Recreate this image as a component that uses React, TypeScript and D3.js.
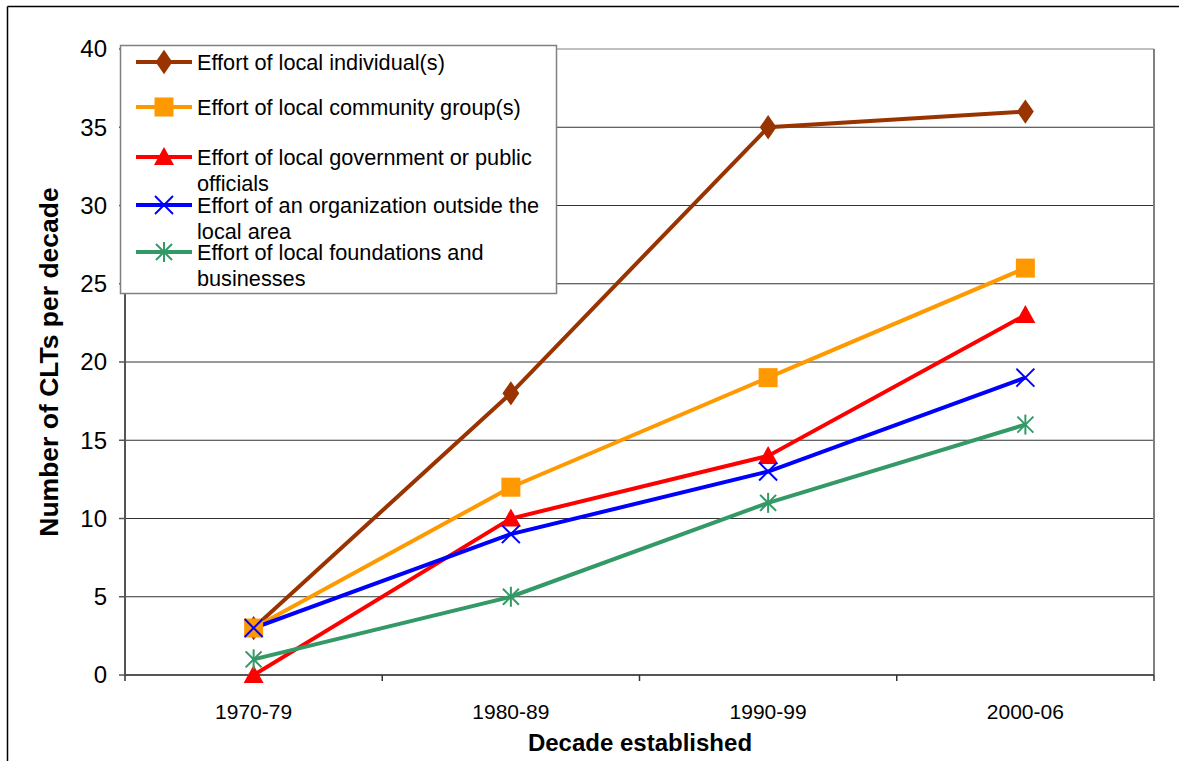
import React from "react";
import * as d3 from "d3";

const categories = ["1970-79", "1980-89", "1990-99", "2000-06"];
const individual = [3, 18, 35, 36];
const community = [3, 12, 19, 26];
const government = [0, 10, 14, 23];
const outsideOrg = [3, 9, 13, 19];
const foundations = [1, 5, 11, 16];
const yTicks = [0, 5, 10, 15, 20, 25, 30, 35, 40];

const seriesNames = [
  ["Effort of local individual(s)"],
  ["Effort of local community group(s)"],
  ["Effort of local government or public", "officials"],
  ["Effort of an organization outside the", "local area"],
  ["Effort of local foundations and", "businesses"],
];
const seriesValues = [individual, community, government, outsideOrg, foundations];
const colors = ["#993300", "#FF9900", "#FF0000", "#0000FF", "#339966"];
const markers = ["diamond", "square", "triangle", "x", "star"];

const W = 1179, H = 761;
const left = 125, right = 1154, top = 49, bottom = 675;
const FONT = "Liberation Sans, Arial, sans-serif";

function Marker({ type, x, y, color }: { type: string; x: number; y: number; color: string }) {
  if (type === "diamond") {
    const p = d3.symbol().type(d3.symbolDiamond).size(170)();
    return <path d={p || ""} transform={`translate(${x},${y}) scale(1.2,1)`} fill={color} />;
  }
  if (type === "square") {
    return <rect x={x - 9.5} y={y - 9.5} width={19} height={19} fill={color} />;
  }
  if (type === "triangle") {
    return <path d={`M${x},${y - 10}L${x + 10},${y + 8}L${x - 10},${y + 8}Z`} fill={color} />;
  }
  if (type === "x") {
    const s = 9;
    return (
      <g stroke={color} strokeWidth={2}>
        <line x1={x - s} y1={y - s} x2={x + s} y2={y + s} />
        <line x1={x - s} y1={y + s} x2={x + s} y2={y - s} />
      </g>
    );
  }
  const s = 8;
  return (
    <g stroke={color} strokeWidth={2}>
      <line x1={x - s} y1={y - s} x2={x + s} y2={y + s} />
      <line x1={x - s} y1={y + s} x2={x + s} y2={y - s} />
      <line x1={x} y1={y - s - 2} x2={x} y2={y + s + 2} />
    </g>
  );
}

export default function App() {
  const x = d3.scaleBand<string>().domain(categories).range([left, right]);
  const y = d3.scaleLinear().domain([0, 40]).range([bottom, top]);
  const cx = (c: string) => (x(c) || 0) + x.bandwidth() / 2;
  const line = d3
    .line<number>()
    .x((_, i) => cx(categories[i]))
    .y((d) => y(d));

  const legendRows = [62, 107, 157, 205, 252];

  return (
    <svg
      width={W}
      height={H}
      style={{ position: "absolute", left: 0, top: 0, background: "#fff" }}
      fontFamily={FONT}
    >
      <rect x={0} y={0} width={W} height={H} fill="#fff" />
      {/* outer border */}
      <line x1={7.5} y1={6.5} x2={W} y2={6.5} stroke="#000" strokeWidth={1.5} />
      <line x1={7.5} y1={6.5} x2={7.5} y2={H} stroke="#000" strokeWidth={1.5} />

      {/* gridlines */}
      {yTicks.map((t) => (
        <line key={t} x1={left} x2={right} y1={y(t)} y2={y(t)} stroke={t === 40 ? "#808080" : "#333"} strokeWidth={1} />
      ))}
      {/* plot right border */}
      <line x1={right} x2={right} y1={top} y2={bottom} stroke="#808080" strokeWidth={2} />

      {/* y axis */}
      <line x1={left} x2={left} y1={top} y2={bottom} stroke="#555" strokeWidth={2} />
      {yTicks.map((t) => (
        <g key={"yt" + t}>
          <line x1={left - 6} x2={left} y1={y(t)} y2={y(t)} stroke="#555" strokeWidth={1.5} />
          <text x={left - 18} y={y(t)} dy="0.35em" textAnchor="end" fontSize={24} fill="#000">
            {t}
          </text>
        </g>
      ))}
      {/* x axis */}
      <line x1={left} x2={right} y1={bottom} y2={bottom} stroke="#555" strokeWidth={2} />
      {[...categories.map((c) => x(c) || 0), right].map((v, i) => (
        <line key={"xt" + i} x1={v} x2={v} y1={bottom} y2={bottom + 6} stroke="#333" strokeWidth={1.5} />
      ))}
      {categories.map((c) => (
        <text key={c} x={cx(c)} y={712} dy="0.35em" textAnchor="middle" fontSize={21} fill="#000">
          {c}
        </text>
      ))}

      {/* axis titles */}
      <text x={640} y={743} dy="0.35em" textAnchor="middle" fontSize={24} fontWeight="bold" fill="#000">
        Decade established
      </text>
      <text
        transform={`translate(49,${(top + bottom) / 2}) rotate(-90)`}
        dy="0.35em"
        textAnchor="middle"
        fontSize={26.5}
        fontWeight="bold"
        fill="#000"
      >
        Number of CLTs per decade
      </text>

      {/* series */}
      {seriesValues.map((vals, si) => (
        <g key={"s" + si}>
          <path d={line(vals) || ""} fill="none" stroke={colors[si]} strokeWidth={4} />
        </g>
      ))}
      {seriesValues.map((vals, si) => (
        <g key={"m" + si}>
          {vals.map((v, i) => (
            <Marker key={i} type={markers[si]} x={cx(categories[i])} y={y(v)} color={colors[si]} />
          ))}
        </g>
      ))}

      {/* legend */}
      <rect x={120.5} y={45.5} width={436} height={248} fill="#fff" stroke="#808080" strokeWidth={1.5} />
      {seriesNames.map((lines, si) => (
        <g key={"l" + si}>
          <line x1={136} x2={192} y1={legendRows[si]} y2={legendRows[si]} stroke={colors[si]} strokeWidth={4} />
          <Marker type={markers[si]} x={164} y={legendRows[si]} color={colors[si]} />
          {lines.map((t, li) => (
            <text key={li} x={197} y={legendRows[si] + li * 26.5} dy="0.35em" fontSize={21.7} fill="#000">
              {t}
            </text>
          ))}
        </g>
      ))}
    </svg>
  );
}
